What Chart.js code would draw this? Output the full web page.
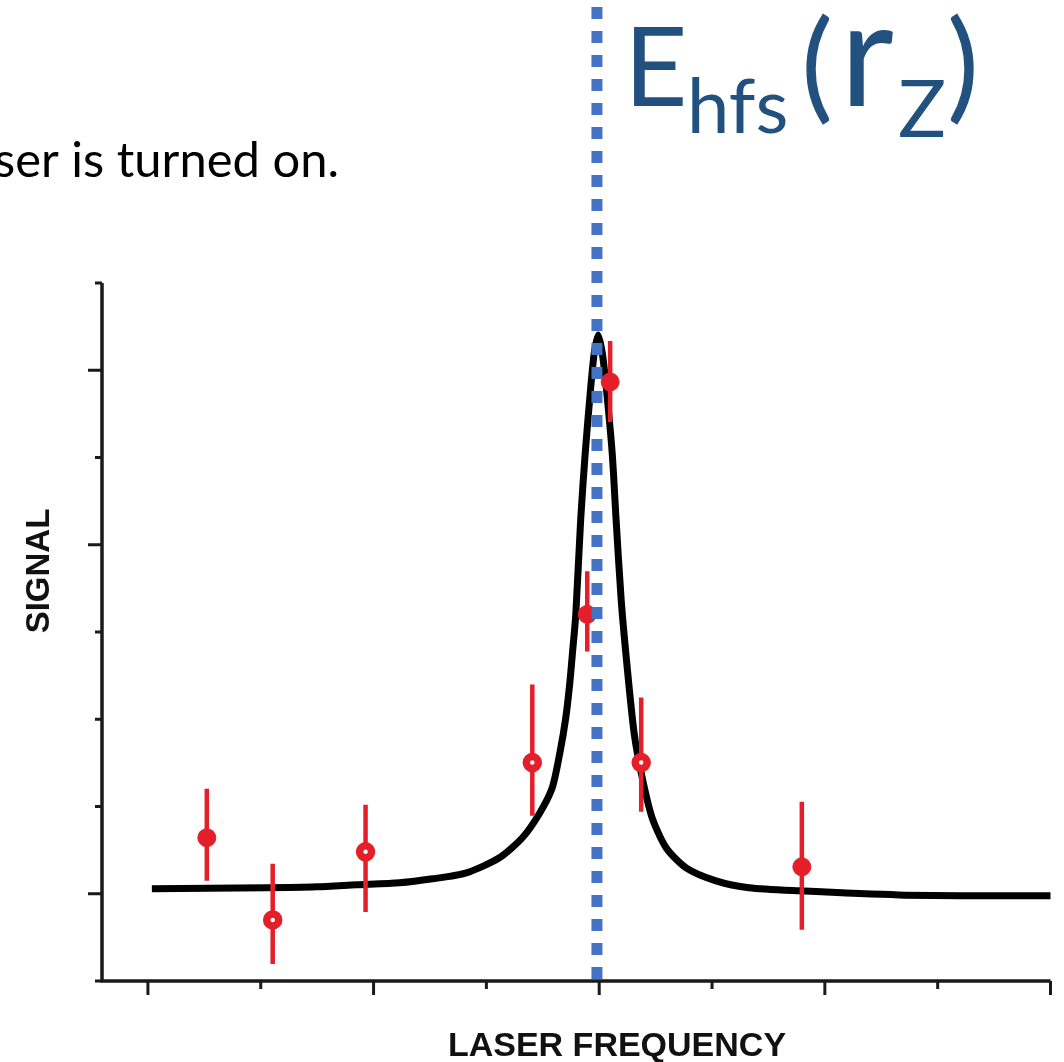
<!DOCTYPE html>
<html>
<head>
<meta charset="utf-8">
<title>Laser frequency scan</title>
<script src="https://cdn.jsdelivr.net/npm/chart.js@4.4.1/dist/chart.umd.min.js"></script>
<style>
  html, body { margin: 0; padding: 0; background: #fff; }
  #wrap { width: 1064px; height: 1062px; position: relative; }
</style>
</head>
<body>
<div id="wrap"><canvas id="chart" width="1064" height="1062"></canvas></div>
<script>
// ------------------------------------------------------------------ data
// fitted line (x in tick units, y in tick units)
const curveX = [0.035, 1.053, 1.496, 1.850, 2.230, 2.522, 2.823, 3.115, 3.319, 3.469, 3.584,
    3.655, 3.704, 3.739, 3.765, 3.792, 3.836, 3.876, 3.925, 3.956, 3.991, 4.027, 4.062, 4.115,
    4.150, 4.195, 4.248, 4.310, 4.381, 4.469, 4.593, 4.770, 5.035, 5.327, 5.770, 6.655, 7.690, 8.000];
const curveY = [1.056, 1.068, 1.079, 1.102, 1.125, 1.171, 1.240, 1.412, 1.642, 1.917, 2.216,
    2.641, 3.020, 3.410, 3.789, 4.191, 5.293, 6.051, 6.808, 7.199, 7.405, 7.199, 6.808, 6.051,
    5.281, 4.363, 3.594, 2.836, 2.331, 1.871, 1.527, 1.297, 1.148, 1.068, 1.033, 0.987, 0.976, 0.976];

// measured points with error bars
const pointX = [0.522, 1.106, 1.929, 3.407, 3.894, 4.097, 4.372, 5.796];
const pointY = [1.642, 0.700, 1.481, 2.503, 4.202, 6.866, 2.503, 1.309];
const errLow = [1.148, 0.195, 0.792, 1.894, 3.777, 6.406, 1.940, 0.586];
const errHigh = [2.204, 1.343, 2.021, 3.398, 4.696, 7.336, 3.249, 2.055];
const pointOpen = [false, true, true, true, false, false, true, false];

// axes
const xMajorTicks = [0, 2, 4, 6, 8];
const xMinorTicks = [1, 3, 5, 7];
const yMajorTicks = [1, 5, 7];
const yMinorTicks = [0, 2, 3, 4, 6, 8];
const resonanceX = 3.98;

const xTitle = 'LASER FREQUENCY';
const yTitle = 'SIGNAL';
const captionText = 'ser is turned on.';

// ---------------------------------------------------------------- colours
const RED = '#e41f29';
const BLUE = '#4472c4';
const NAVY = '#22517f';
const INK = '#1a1a1a';

// -------------------------------------------------------------- plugins
const axesPlugin = {
    id: 'axesPlugin',
    beforeDatasetsDraw(chart) {
        const { ctx, chartArea: a, scales: { x, y } } = chart;
        ctx.save();
        ctx.strokeStyle = INK;
        ctx.lineCap = 'butt';

        ctx.lineWidth = 3.5;
        ctx.beginPath();
        ctx.moveTo(a.left, a.top);
        ctx.lineTo(a.left, a.bottom + 1.5);
        ctx.moveTo(a.left - 1.5, a.bottom);
        ctx.lineTo(a.right, a.bottom);
        ctx.stroke();

        ctx.lineWidth = 3;
        ctx.beginPath();
        yMajorTicks.forEach(v => {
            const p = y.getPixelForValue(v);
            ctx.moveTo(a.left, p); ctx.lineTo(a.left - 14, p);
        });
        yMinorTicks.forEach(v => {
            const p = y.getPixelForValue(v);
            ctx.moveTo(a.left, p); ctx.lineTo(a.left - 7, p);
        });
        xMajorTicks.forEach(v => {
            const p = x.getPixelForValue(v);
            ctx.moveTo(p, a.bottom); ctx.lineTo(p, a.bottom + 14);
        });
        xMinorTicks.forEach(v => {
            const p = x.getPixelForValue(v);
            ctx.moveTo(p, a.bottom); ctx.lineTo(p, a.bottom + 8);
        });
        ctx.stroke();
        ctx.restore();
    }
};

const errorBarPlugin = {
    id: 'errorBars',
    beforeDatasetDraw(chart, args) {
        if (args.index !== 1) return;
        const { ctx, scales: { x, y } } = chart;
        ctx.save();
        ctx.strokeStyle = RED;
        ctx.lineWidth = 4.5;
        ctx.beginPath();
        pointX.forEach((px, i) => {
            const xp = x.getPixelForValue(px);
            ctx.moveTo(xp, y.getPixelForValue(errHigh[i]));
            ctx.lineTo(xp, y.getPixelForValue(errLow[i]));
        });
        ctx.stroke();
        ctx.restore();
    }
};

const overlayPlugin = {
    id: 'overlay',
    afterDatasetsDraw(chart) {
        const { ctx, scales: { x } } = chart;
        // dotted resonance marker
        const xp = x.getPixelForValue(resonanceX);
        ctx.save();
        ctx.strokeStyle = BLUE;
        ctx.lineWidth = 11;
        ctx.setLineDash([12, 12]);
        ctx.beginPath();
        ctx.moveTo(xp, 7);
        ctx.lineTo(xp, 979);
        ctx.stroke();
        ctx.restore();
    },
    afterDraw(chart) {
        const { ctx } = chart;
        ctx.save();
        ctx.textBaseline = 'alphabetic';

        // clipped slide sentence
        ctx.fillStyle = '#000';
        ctx.font = '49px Lato';
        const w = ctx.measureText(captionText).width;
        ctx.save();
        ctx.translate(-6, 177);
        ctx.scale(345 / w, 1);
        ctx.fillText(captionText, 0, 0);
        ctx.restore();

        // E_hfs(r_Z)
        ctx.fillStyle = NAVY;
        ctx.font = '110px Lato';
        ctx.fillText('E', 624, 106);
        ctx.font = '76px Lato';
        ctx.fillText('hfs', 687, 133);
        ctx.font = '120px Lato';
        ctx.fillText('(', 801, 107);
        ctx.font = '148px Lato';
        ctx.fillText('r', 840, 106);
        ctx.font = '80px Lato';
        ctx.fillText('Z', 898, 137);
        ctx.font = '120px Lato';
        ctx.fillText(')', 947, 107);

        // axis titles
        ctx.fillStyle = '#111';
        ctx.font = 'bold 34px "Liberation Sans", Arial, sans-serif';
        ctx.textAlign = 'center';
        ctx.fillText(xTitle, 617, 1056);

        ctx.font = 'bold 33px "Liberation Sans", Arial, sans-serif';
        ctx.translate(49, 571);
        ctx.rotate(-Math.PI / 2);
        ctx.fillText(yTitle, 0, 0);
        ctx.restore();
    }
};

// ----------------------------------------------------------------- chart
const ctx = document.getElementById('chart').getContext('2d');
new Chart(ctx, {
    type: 'scatter',
    data: {
        datasets: [
            {
                label: 'fit',
                data: curveX.map((v, i) => ({ x: v, y: curveY[i] })),
                showLine: true,
                borderColor: '#000',
                borderWidth: 7,
                borderJoinStyle: 'round',
                pointRadius: 0,
                tension: 0.25,
                clip: false,
                order: 2
            },
            {
                label: 'data',
                data: pointX.map((v, i) => ({ x: v, y: pointY[i] })),
                showLine: false,
                pointStyle: 'circle',
                pointRadius: c => pointOpen[c.dataIndex] ? 6 : 9,
                pointBorderWidth: c => pointOpen[c.dataIndex] ? 7.5 : 1,
                pointBackgroundColor: c => pointOpen[c.dataIndex] ? '#fff' : RED,
                pointBorderColor: RED,
                clip: false,
                order: 1
            }
        ]
    },
    options: {
        responsive: false,
        animation: false,
        layout: { padding: { left: 102, right: 12, top: 283, bottom: 81 } },
        plugins: {
            legend: { display: false },
            tooltip: { enabled: false }
        },
        scales: {
            x: { type: 'linear', display: false, min: -0.407, max: 8 },
            y: { type: 'linear', display: false, min: 0, max: 8 }
        }
    },
    plugins: [axesPlugin, errorBarPlugin, overlayPlugin]
});
</script>
</body>
</html>
